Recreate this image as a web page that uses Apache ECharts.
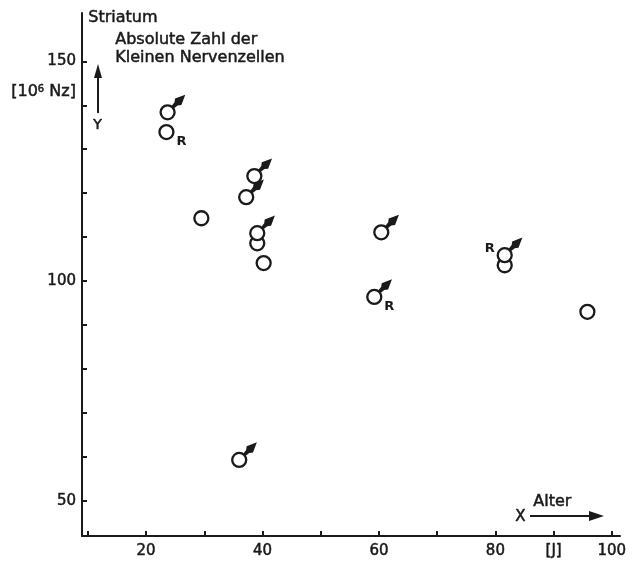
<!DOCTYPE html>
<html>
<head>
<meta charset="utf-8">
<script src="https://cdn.jsdelivr.net/npm/echarts@6/dist/echarts.min.js"></script>
<style>
  html, body { margin: 0; padding: 0; background: #fff; }
  #chart { width: 636px; height: 566px; }
</style>
</head>
<body>
<div id="chart"></div>
<script>
// Alter [J]
var ages   = [23.7, 23.5, 38.6, 37.2, 29.5, 39.1, 39.1, 40.2, 60.4, 59.2, 81.6, 81.6, 95.8, 36.0];
// Absolute Zahl [10^6 Nz]
var counts = [138.4, 133.9, 123.9, 119.1, 114.3, 108.6, 110.9, 104.1, 111.1, 96.4, 103.6, 105.9, 93.0, 59.3];
// 1 = maennlich (Pfeil)
var male   = [1, 0, 1, 1, 0, 0, 1, 0, 1, 1, 0, 1, 0, 1];
// R-Markierung: '' keine, 'br' rechts unten, 'l' links
var rMark  = ['', 'br', '', '', '', '', '', '', '', 'br', '', 'l', '', ''];

var xTicks  = [10, 20, 30, 40, 50, 60, 70, 80, 90, 100];
var xLabels = [20, 40, 60, 80, 90, 100];
var yTicks  = [50, 60, 70, 80, 90, 100, 110, 120, 130, 140, 150];
var yLabels = [50, 100, 150];

var ink = '#1a1a1a';
var font = 'DejaVu Sans';

var seriesData = [];
for (var i in ages) {
	seriesData.push([ages[i], counts[i], male[i]]);
}

function txt(left, top, text, size) {
	return {
		type: 'text', left: left, top: top,
		style: { text: text, font: size + 'px ' + font, fill: ink, stroke: ink, lineWidth: 0.5 }
	};
}

function renderItem(params, api) {
	var p = api.coord([api.value(0), api.value(1)]);
	var r = 7;
	var children = [];
	if (api.value(2)) {
		var dx = 0.707, dy = -0.707, nx = 0.707, ny = 0.707;
		function pt(d, w) { return [p[0] + dx * d + nx * w, p[1] + dy * d + ny * w]; }
		children.push({
			type: 'polygon',
			shape: { points: [pt(6, 1.5), pt(12, 2.2), pt(15, 4.5), pt(25, 0), pt(15, -4.5), pt(12, -2.2), pt(6, -1.5)] },
			style: { fill: ink }
		});
	}
	children.push({
		type: 'circle',
		shape: { cx: p[0], cy: p[1], r: r },
		style: { fill: '#fff', stroke: ink, lineWidth: 2.3 }
	});
	var m = rMark[params.dataIndex];
	if (m) {
		children.push({
			type: 'text',
			style: {
				text: 'R',
				x: m === 'l' ? p[0] - 15 : p[0] + 15,
				y: m === 'l' ? p[1] - 7 : p[1] + 10,
				align: 'center', verticalAlign: 'middle',
				font: 'bold 13px ' + font, fill: ink
			}
		});
	}
	return { type: 'group', children: children };
}

var chart = echarts.init(document.getElementById('chart'));
var option = {
	backgroundColor: '#fff',
	animation: false,
	grid: { left: 82, right: 16, top: 13, bottom: 30 },
	xAxis: {
		type: 'value', min: 9, max: 101.4,
		axisLine: { show: true, lineStyle: { color: ink, width: 2 } },
		axisTick: { show: true, inside: true, length: 5, customValues: xTicks, lineStyle: { color: ink, width: 2 } },
		axisLabel: {
			customValues: xLabels, color: ink, fontSize: 15, fontFamily: font, margin: 8,
			textBorderColor: ink, textBorderWidth: 0.5,
			formatter: function (v) { return v === 90 ? '[J]' : v; }
		},
		splitLine: { show: false }
	},
	yAxis: {
		type: 'value', min: 42, max: 161,
		axisLine: { show: true, lineStyle: { color: ink, width: 2 } },
		axisTick: { show: true, inside: true, length: 5, customValues: yTicks, lineStyle: { color: ink, width: 2 } },
		axisLabel: {
			customValues: yLabels, color: ink, fontSize: 15, fontFamily: font, margin: 6,
			textBorderColor: ink, textBorderWidth: 0.5
		},
		splitLine: { show: false }
	},
	graphic: [
		txt(88, 10, 'Striatum', 16),
		txt(115, 32, 'Absolute Zahl der', 16),
		txt(115, 50, 'Kleinen Nervenzellen', 16),
		{ type: 'text', left: 11, top: 84, style: {
			text: '[10{s|6} Nz]', font: '16px ' + font, fill: ink, stroke: ink, lineWidth: 0.5,
			rich: { s: { fontSize: 10, verticalAlign: 'top', fontFamily: font, fill: ink } }
		} },
		// Y-Pfeil
		{ type: 'line', shape: { x1: 98, y1: 72, x2: 98, y2: 113 }, style: { stroke: ink, lineWidth: 2 } },
		{ type: 'polygon', shape: { points: [[98, 64], [94, 78], [102, 78]] }, style: { fill: ink } },
		txt(93, 118, 'Y', 14),
		// X-Pfeil
		txt(515, 509, 'X', 15),
		{ type: 'line', shape: { x1: 530, y1: 516, x2: 594, y2: 516 }, style: { stroke: ink, lineWidth: 2 } },
		{ type: 'polygon', shape: { points: [[604, 516], [589, 511], [589, 521]] }, style: { fill: ink } },
		txt(533, 494, 'Alter', 16)
	],
	series: [{
		type: 'custom',
		renderItem: renderItem,
		data: seriesData,
		encode: { x: 0, y: 1 },
		clip: false
	}]
};
chart.setOption(option);
</script>
</body>
</html>
